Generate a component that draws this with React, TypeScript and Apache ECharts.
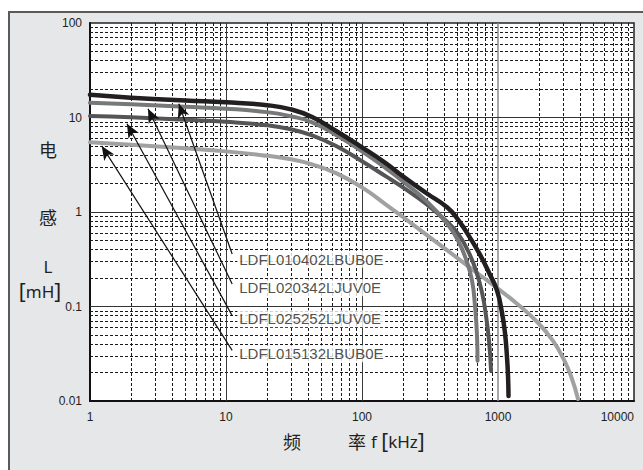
import React, { useEffect, useRef } from "react";
import * as echarts from "echarts";

// ---- data ----
const seriesNames = ["LDFL010402LBUB0E", "LDFL020342LJUV0E", "LDFL025252LJUV0E", "LDFL015132LBUB0E"];
const seriesColors = ["#231f20", "#77787a", "#555557", "#a0a1a3"];

const freqA = [1, 2, 5, 10, 20, 30, 43, 65, 100, 150, 200, 300, 422, 508, 622, 737, 873, 984, 1070, 1125, 1163, 1185, 1195];
const indA = [17.4, 16.2, 15.1, 14.5, 13.5, 12.2, 10.1, 7.15, 4.83, 3.27, 2.38, 1.57, 1.12, 0.832, 0.536, 0.354, 0.217, 0.147, 0.0859, 0.0527, 0.03, 0.0184, 0.0113];

const freqB = [1, 2, 5, 10, 20, 30, 43, 65, 100, 150, 200, 300, 422, 508, 583, 644, 677, 701, 707];
const indB = [14.3, 13.8, 13.0, 12.4, 11.4, 10.3, 8.9, 6.48, 4.38, 2.9, 2.11, 1.29, 0.755, 0.499, 0.313, 0.188, 0.102, 0.049, 0.0266];

const freqC = [1, 2, 5, 10, 20, 30, 43, 65, 100, 150, 200, 300, 422, 508, 601, 689, 763, 816, 859, 889];
const indC = [10.4, 10.07, 9.47, 9.01, 8.27, 7.5, 6.48, 4.96, 3.44, 2.38, 1.82, 1.2, 0.79, 0.59, 0.39, 0.24, 0.14, 0.08, 0.0433, 0.0208];

const freqD = [1, 2, 5, 10, 20, 30, 43, 65, 100, 150, 200, 300, 422, 622, 873, 1380, 1968, 2537, 3004, 3441, 3875];
const indD = [5.46, 5.14, 4.72, 4.38, 3.93, 3.61, 3.19, 2.56, 1.82, 1.2, 0.885, 0.57, 0.395, 0.258, 0.179, 0.107, 0.0673, 0.0433, 0.0286, 0.0184, 0.0105];

const xTickLabels = ["1", "10", "100", "1000", "10000"];
const yTickLabels = ["0.01", "0.1", "1", "10", "100"];

// annotation arrows (data-space)
const arrowTipF = [4.5, 2.67, 1.87, 1.22];
const arrowTipL = [14.0, 12.4, 8.6, 5.0];
const arrowTailF = [11.1, 11.1, 11.1, 11.1];
const arrowTailL = [0.36, 0.173, 0.0801, 0.0343];
const labelF = [12.1, 12.1, 12.1, 12.1];
const labelL = [0.316, 0.158, 0.0743, 0.0317];

const xMajor = [10, 100];
const xMajorLight = [1000];
const yMajor = [0.1, 1, 10];
const minorMultipliers = [2, 3, 4, 5, 6, 7, 8, 9];
const xDecades = [1, 10, 100, 1000];
const yDecades = [0.01, 0.1, 1, 10];

const zip = (f: number[], l: number[]) => f.map((v, i) => [v, l[i]]);

export default function App() {
  const ref = useRef<HTMLDivElement>(null);
  useEffect(() => {
    if (!ref.current) return;
    const chart = echarts.init(ref.current, null, { renderer: "svg" });

    const xMinor: number[] = [];
    xDecades.forEach((d) => minorMultipliers.forEach((m) => xMinor.push(m * d)));
    const yMinor: number[] = [];
    yDecades.forEach((d) => minorMultipliers.forEach((m) => yMinor.push(m * d)));

    const minorStyle = { color: "#1a1a1a", width: 1, type: [3, 2] as any };

    const gridLines = [
      ...xMinor.map((v) => ({ xAxis: v, lineStyle: minorStyle })),
      ...yMinor.map((v) => ({ yAxis: v, lineStyle: minorStyle })),
      ...xMajor.map((v) => ({ xAxis: v, lineStyle: { color: "#3a3a3a", width: 1, type: "solid" } })),
      ...xMajorLight.map((v) => ({ xAxis: v, lineStyle: { color: "#8a8a8a", width: 1.5, type: "solid" } })),
      ...yMajor.map((v) => ({ yAxis: v, lineStyle: { color: "#333", width: 1.2, type: "solid" } })),
    ];

    const curves = [zip(freqA, indA), zip(freqB, indB), zip(freqC, indC), zip(freqD, indD)];
    const widths = [4.5, 4, 4, 4];

    const curveSeries = curves
      .map((d, i) => ({
        name: seriesNames[i],
        type: "line",
        data: d,
        showSymbol: false,
        symbol: "none",
        smooth: 0.5,
        z: 5 + (3 - i),
        lineStyle: { color: seriesColors[i], width: widths[i], cap: "round", join: "round" },
        silent: true,
      }))
      .reverse();

    const titleRich = {
      b: { fontSize: 21, fontFamily: "Noto Sans", fill: "#231f20" },
      t: { fontSize: 17, fontFamily: "Noto Sans", fill: "#231f20" },
    };

    const option: any = {
      animation: false,
      backgroundColor: "#ffffff",
      grid: {
        left: 90,
        right: 9,
        top: 23,
        bottom: 69,
        show: true,
        backgroundColor: "#ffffff",
        borderColor: "#222",
        borderWidth: 1.5,
        outerBoundsMode: "none",
      },
      graphic: [
        {
          type: "rect",
          z: -100,
          silent: true,
          shape: { x: 9, y: 12, width: 700, height: 500 },
          style: { fill: "#e6e7e9", stroke: "#5a5a5a", lineWidth: 2 },
        },
        { type: "text", x: 48, y: 149, style: { text: "电", fill: "#231f20", font: '18px "Noto Sans CJK SC"', align: "center", verticalAlign: "middle" } },
        { type: "text", x: 48, y: 217, style: { text: "感", fill: "#231f20", font: '18px "Noto Sans CJK SC"', align: "center", verticalAlign: "middle" } },
        { type: "text", x: 48, y: 266, style: { text: "L", fill: "#231f20", font: '17px "Noto Sans"', align: "center", verticalAlign: "middle" } },
        {
          type: "text",
          x: 40,
          y: 291,
          style: {
            text: "{b|[}{t|mH}{b|]}",
            rich: titleRich,
            align: "center",
            verticalAlign: "middle",
          },
        },
        { type: "text", x: 292, y: 441, style: { text: "频", fill: "#231f20", font: '18px "Noto Sans CJK SC"', align: "center", verticalAlign: "middle" } },
        { type: "text", x: 357, y: 441, style: { text: "率", fill: "#231f20", font: '18px "Noto Sans CJK SC"', align: "center", verticalAlign: "middle" } },
        {
          type: "text",
          x: 371,
          y: 441,
          style: {
            text: "{t|f }{b|[}{t|kHz}{b|]}",
            rich: titleRich,
            align: "left",
            verticalAlign: "middle",
          },
        },
      ],
      xAxis: {
        type: "log",
        logBase: 10,
        min: 1,
        max: 10000,
        axisLine: { show: true, onZero: false, lineStyle: { color: "#111", width: 2 } },
        axisTick: { show: false },
        splitLine: { show: false },
        minorTick: { show: false },
        axisLabel: {
          color: "#231f20",
          fontSize: 12,
          fontFamily: "Liberation Sans",
          margin: 10,
          alignMaxLabel: "right",
          formatter: (v: number) => xTickLabels[Math.round(Math.log10(v))] ?? "",
        },
      },
      yAxis: {
        type: "log",
        logBase: 10,
        min: 0.01,
        max: 100,
        axisLine: { show: true, onZero: false, lineStyle: { color: "#111", width: 2 } },
        axisTick: { show: false },
        splitLine: { show: false },
        minorTick: { show: false },
        axisLabel: {
          color: "#231f20",
          fontSize: 12,
          fontFamily: "Liberation Sans",
          margin: 8,
          formatter: (v: number) => yTickLabels[Math.round(Math.log10(v)) + 2] ?? "",
        },
      },
      series: [
        {
          type: "line",
          name: "grid",
          data: [],
          silent: true,
          z: 1,
          markLine: {
            silent: true,
            z: 1,
            symbol: ["none", "none"],
            label: { show: false },
            emphasis: { disabled: true },
            data: gridLines,
          },
        },
        ...curveSeries,
        {
          type: "scatter",
          name: "labels",
          z: 20,
          symbolSize: 0,
          silent: true,
          data: seriesNames.map((n, i) => ({ name: n, value: [labelF[i], labelL[i]] })),
          label: {
            show: true,
            position: "right",
            distance: 0,
            formatter: "{b}",
            color: "#231f20",
            fontSize: 15,
            fontFamily: "Liberation Sans",
            backgroundColor: "#ffffff",
            padding: [1, 2, 1, 2],
          },
          markLine: {
            silent: true,
            z: 19,
            symbol: ["none", "arrow"],
            symbolSize: 13,
            label: { show: false },
            emphasis: { disabled: true },
            lineStyle: { color: "#111", width: 1.2, type: "solid" },
            data: arrowTipF.map((tf, i) => [
              { coord: [arrowTailF[i], arrowTailL[i]] },
              { coord: [tf, arrowTipL[i]], symbolSize: [9, 14] },
            ]),
          },
        },
      ],
    };

    chart.setOption(option);
    return () => chart.dispose();
  }, []);

  return (
    <div
      ref={ref}
      style={{ position: "absolute", left: 0, top: 0, width: 643, height: 470 }}
    />
  );
}
